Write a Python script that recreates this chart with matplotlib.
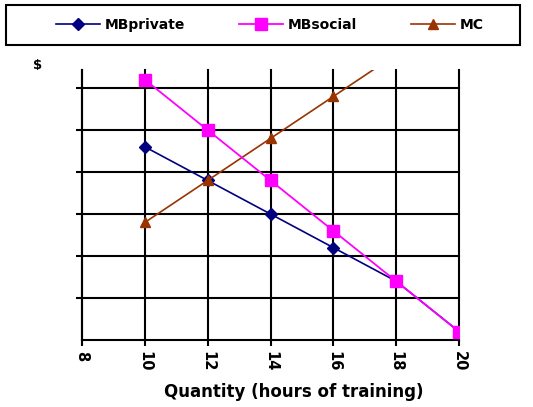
import matplotlib
matplotlib.use("Agg")
import matplotlib.pyplot as plt
from matplotlib.patches import Rectangle

plt.rcParams['font.family'] = ['DejaVu Sans']

quantity = [10, 12, 14, 16, 18, 20]
mb_private = [46, 38, 30, 22, 14, 2]
mb_social = [62, 50, 38, 26, 14, 2]
mc_q = [10, 12, 14, 16, 18]
mc = [28, 38, 48, 58, 68]
x_ticks = [8, 10, 12, 14, 16, 18, 20]
y_ticks = [10, 20, 30, 40, 50, 60]

W, H = 533, 407
fig = plt.figure(figsize=(W / 100, H / 100), dpi=100)
ax = fig.add_axes([82 / W, 1 - 340 / H, (459 - 82) / W, (340 - 70) / H])

ax.set_xlim(8, 20)
ax.set_ylim(0, 64.3)
ax.set_xticks(x_ticks)
ax.set_xticklabels([str(t) for t in x_ticks], rotation=-90, fontsize=10.5, fontweight='bold')
ax.set_yticks(y_ticks)
ax.set_yticklabels([])
ax.grid(True, color='black', linewidth=1.5)
for gl in ax.get_xgridlines() + ax.get_ygridlines():
    gl.set_clip_on(False)
ax.set_axisbelow(True)
for s in ['top', 'right']:
    ax.spines[s].set_visible(False)
for s in ['left', 'bottom']:
    ax.spines[s].set_linewidth(1.5)
ax.tick_params(direction='out', length=4, width=1.5, pad=4)

l1, = ax.plot(quantity, mb_private, color='#000080', marker='D', markersize=6.5, linewidth=1.2, label='MBprivate', zorder=3)
l2, = ax.plot(quantity, mb_social, color='#FF00FF', marker='s', markersize=8.5, linewidth=1.3, label='MBsocial', zorder=4)
l3, = ax.plot(mc_q, mc, color='#993300', marker='^', markersize=7, linewidth=1.2, label='MC', zorder=3)

fig.text(294 / W, 1 - 392 / H, 'Quantity (hours of training)', fontsize=12, fontweight='bold',
         ha='center', va='center')
fig.text(38 / W, 1 - 66 / H, '$', fontsize=9.5, fontweight='bold', ha='center', va='center')

fig.patches.append(Rectangle((6 / W, 1 - 45 / H), (520 - 6) / W, 40 / H, transform=fig.transFigure,
                             fill=False, edgecolor='black', linewidth=1.5))
fig.legend(handles=[l1, l2, l3], loc='center', bbox_to_anchor=(270 / W, 1 - 25 / H), ncol=3,
           frameon=False, numpoints=1, handlelength=3.2, handletextpad=0.35, columnspacing=3.85,
           prop={'weight': 'bold', 'size': 10})

fig.savefig('out.png', dpi=100)
